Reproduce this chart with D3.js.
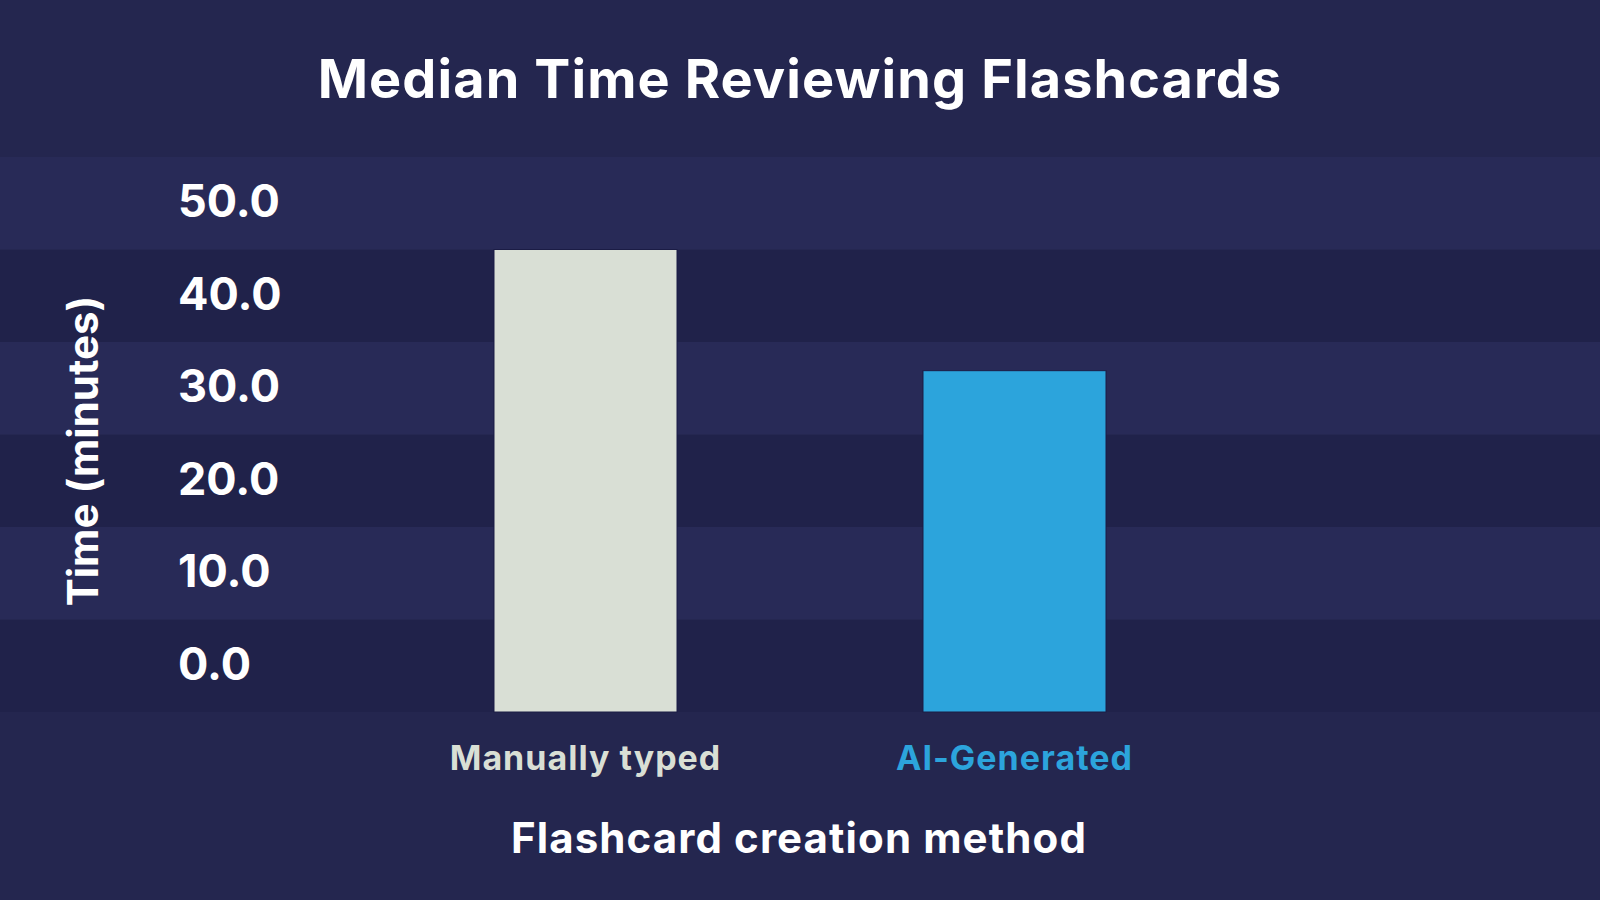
<!DOCTYPE html>
<html lang="en">
<head>
    <meta charset="UTF-8">
    <title>Median Time Reviewing Flashcards</title>
    <script src="https://d3js.org/d3.v7.min.js"></script>
    <style>
        html, body {
            margin: 0;
            padding: 0;
            background-color: #24264f;
        }
        svg {
            display: block;
            font-family: 'Inter', sans-serif;
        }
    </style>
</head>
<body>
    <svg width="1600" height="900"></svg>

    <script>
        // data
        const categories = ["Manually typed", "AI-Generated"];
        const medianMinutes = [45.0, 31.9];
        const barColors = ["#d9dfd5", "#2ca4dc"];
        const tickValues = [0, 10, 20, 30, 40, 50];

        const svg = d3.select("svg"),
            width = +svg.attr("width"),
            height = +svg.attr("height");

        svg.append("rect")
            .attr("width", width)
            .attr("height", height)
            .attr("fill", "#24264f");

        // each tick label sits in the middle of its own stripe, so the scale runs half a step past both ends
        const y = d3.scaleLinear()
            .domain([-5, 55])
            .range([712, 157]);

        const x = d3.scaleBand()
            .domain(categories)
            .range([371, 1229])
            .paddingInner(0.5734)
            .paddingOuter(0.2867);

        // stripes behind the chart
        svg.append("g")
            .selectAll("rect")
            .data(tickValues)
            .join("rect")
            .attr("x", 0)
            .attr("width", width)
            .attr("y", d => y(d + 5))
            .attr("height", d => y(d - 5) - y(d + 5))
            .attr("fill", (d, i) => i % 2 === 0 ? "#20224a" : "#282a57");

        // y axis labels
        svg.append("g")
            .attr("transform", "translate(178,0)")
            .call(d3.axisLeft(y).tickValues(tickValues).tickFormat(d3.format(".1f")).tickSize(0))
            .call(g => g.select(".domain").remove())
            .call(g => g.selectAll(".tick text")
                .attr("x", 0)
                .attr("dy", "0.3em")
                .attr("text-anchor", "start")
                .attr("fill", "white")
                .style("font-family", "Inter")
                .style("font-size", "45px")
                .style("font-weight", 700));

        // bars
        svg.append("g")
            .selectAll("rect")
            .data(categories)
            .join("rect")
            .attr("x", d => x(d))
            .attr("width", x.bandwidth())
            .attr("y", (d, i) => y(medianMinutes[i]))
            .attr("height", (d, i) => y.range()[0] - y(medianMinutes[i]))
            .attr("fill", (d, i) => barColors[i])
            .attr("stroke", "#1b1c45")
            .attr("stroke-width", 1);

        // category labels
        svg.append("g")
            .selectAll("text")
            .data(categories)
            .join("text")
            .attr("x", d => x(d) + x.bandwidth() / 2)
            .attr("y", 770)
            .attr("text-anchor", "middle")
            .attr("fill", (d, i) => barColors[i])
            .style("font-size", "34px")
            .style("font-weight", 700)
            .style("letter-spacing", "1px")
            .text(d => d);

        // title
        svg.append("text")
            .attr("x", 800)
            .attr("y", 98)
            .attr("text-anchor", "middle")
            .attr("fill", "white")
            .style("font-size", "54px")
            .style("font-weight", 700)
            .style("letter-spacing", "1.1px")
            .text("Median Time Reviewing Flashcards");

        // axis titles
        svg.append("text")
            .attr("x", 799)
            .attr("y", 853)
            .attr("text-anchor", "middle")
            .attr("fill", "white")
            .style("font-size", "42px")
            .style("font-weight", 700)
            .style("letter-spacing", "1.1px")
            .text("Flashcard creation method");

        svg.append("text")
            .attr("transform", "translate(98,451) rotate(-90)")
            .attr("text-anchor", "middle")
            .attr("fill", "white")
            .style("font-size", "42px")
            .style("font-weight", 700)
            .text("Time (minutes)");
    </script>
</body>
</html>
